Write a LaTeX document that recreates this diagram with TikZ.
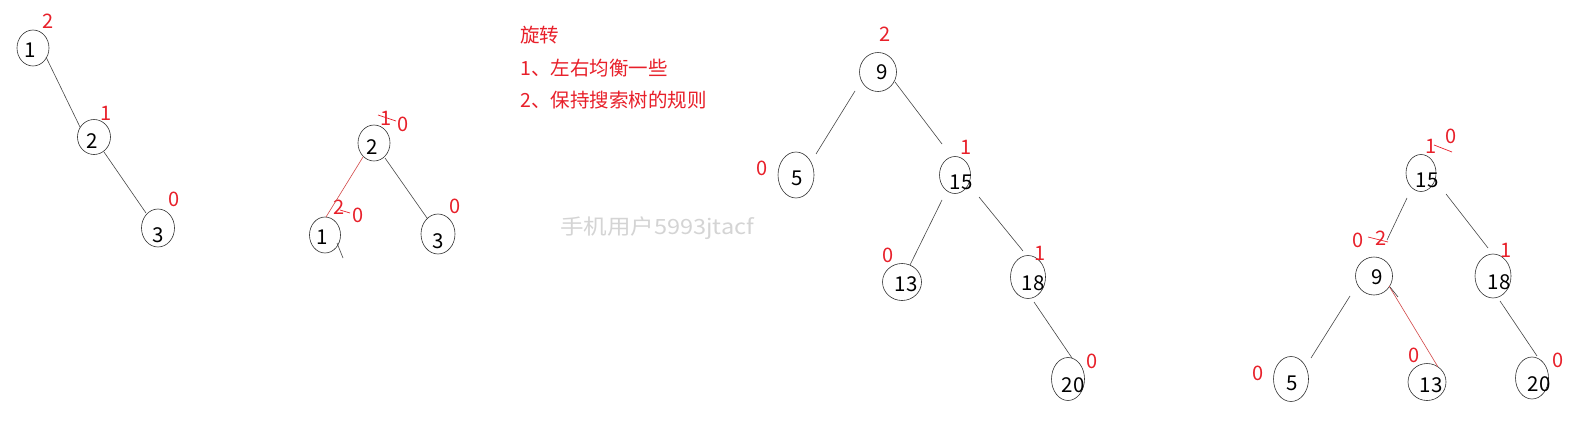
\documentclass[tikz,border=0pt]{standalone}
\usepackage{fontspec}
\usepackage{graphicx}
\setmainfont{Noto Sans CJK SC}
\usetikzlibrary{shapes.geometric,calc}
\definecolor{lblred}{RGB}{232,32,42}
\definecolor{edgegray}{RGB}{70,70,70}
\definecolor{ellgray}{RGB}{50,50,50}
\definecolor{wmgray}{RGB}{212,212,212}
\definecolor{redline}{RGB}{210,70,70}
\tikzset{
  ell/.style={shape=ellipse,draw=ellgray,line width=0.6pt,inner sep=0pt},
  num/.style={inner sep=0pt,font=\fontsize{20.5}{22}\selectfont,text=black},
  bal/.style={inner sep=0pt,font=\fontsize{20}{22}\selectfont,text=lblred},
  edge/.style={draw=edgegray,line width=0.6pt},
  redge/.style={draw=redline,line width=0.6pt},
  strike/.style={draw=lblred,line width=0.7pt},
  cjk/.style={anchor=west,inner sep=0pt,font=\fontsize{19.5}{22}\selectfont,text=lblred}
}
% name, x, y, w, h, text, tx, ty
\newcommand{\bnode}[8]{%
  \node[ell,minimum width=#4pt,minimum height=#5pt] (#1) at (#2,#3) {};
  \node[num] (#1t) at (#7,#8) {#6};
}
\begin{document}
\begin{tikzpicture}[x=1pt,y=-1pt]
\useasboundingbox (0,0) rectangle (1578,423);
\fill[white] (0,0) rectangle (1578,423);

% ---------- Tree 1 ----------
\bnode{t1a}{33}{48}{32}{36}{1}{30}{50}
\bnode{t1b}{94}{137}{33}{35}{2}{92}{141}
\bnode{t1c}{158}{228}{33}{38}{3}{158}{235}
\node[bal] (t1la) at (48,21) {2};
\node[bal] (t1lb) at (106,113) {1};
\node[bal] (t1lc) at (174,199) {0};
\draw[edge] ($(t1a)+(13,9)$) -- ($(t1b)+(-14,-10)$);
\draw[edge] ($(t1b)+(10,15)$) -- ($(t1c)+(-12,-15)$);

% ---------- Tree 2 ----------
\bnode{t2b}{374}{143}{32}{36}{2}{372}{147}
\bnode{t2a}{325}{235}{31}{36}{1}{322}{237}
\bnode{t2c}{438}{234}{34}{40}{3}{438}{241}
\node[bal] (t2lb1) at (386,118) {1};
\node[bal] (t2lb2) at (403,124) {0};
\draw[strike] (378,115) -- (396,121);
\node[bal] (t2la1) at (339,207) {2};
\node[bal] (t2la2) at (358,215) {0};
\draw[strike] (340,210) -- (350,213);
\node[bal] (t2lc) at (455,206) {0};
\draw[redge] ($(t2b)+(-11,14)$) -- ($(t2a)+(1,-18)$);
\draw[edge] ($(t2b)+(11,15)$) -- ($(t2c)+(-11,-16)$);
\draw[edge] ($(t2a)+(12,8)$) -- ($(t2a)+(18,23)$);

% ---------- Text ----------
\node[cjk] (txt1) at (520,35) {旋转};
\node[cjk] (txt2) at (520,68) {1、左右均衡一些};
\node[cjk] (txt3) at (520,100) {2、保持搜索树的规则};

% ---------- Watermark ----------
\node[inner sep=0pt,text=wmgray,font=\fontsize{21}{24}\selectfont] (wm) at (657,228) {\scalebox{1.12}[1]{手机用户5993jtacf}};

% ---------- Tree 3 ----------
\bnode{t3n9}{878}{72}{37}{39}{9}{882}{72}
\bnode{t3n5}{796}{175}{36}{46}{5}{797}{178}
\bnode{t3n15}{955}{175}{31}{37}{15}{961}{182}
\bnode{t3n13}{902}{282}{39}{37}{13}{906}{284}
\bnode{t3n18}{1028}{277}{35}{43}{18}{1033}{283}
\bnode{t3n20}{1068}{379}{33}{43}{20}{1073}{385}
\node[bal] (t3l9) at (885,34) {2};
\node[bal] (t3l5) at (762,168) {0};
\node[bal] (t3l15) at (966,147) {1};
\node[bal] (t3l13) at (888,255) {0};
\node[bal] (t3l18) at (1040,253) {1};
\node[bal] (t3l20) at (1092,361) {0};
\draw[edge] ($(t3n9)+(-23,19)$) -- ($(t3n5)+(20,-21)$);
\draw[edge] ($(t3n9)+(17,10)$) -- ($(t3n15)+(-13,-31)$);
\draw[edge] ($(t3n15)+(-13,25)$) -- ($(t3n13)+(8,-17)$);
\draw[edge] ($(t3n15)+(24,22)$) -- ($(t3n18)+(-5,-26)$);
\draw[edge] ($(t3n18)+(6,25)$) -- ($(t3n20)+(4,-21)$);

% ---------- Tree 4 ----------
\bnode{t4n15}{1421}{173}{30}{37}{15}{1427}{180}
\bnode{t4n9}{1374}{276}{37}{38}{9}{1377}{277}
\bnode{t4n18}{1493}{276}{36}{44}{18}{1499}{282}
\bnode{t4n5}{1291}{379}{35}{45}{5}{1292}{383}
\bnode{t4n13}{1427}{382}{38}{37}{13}{1431}{385}
\bnode{t4n20}{1532}{378}{33}{42}{20}{1539}{384}
\node[bal] (t4l15a) at (1431,146) {1};
\node[bal] (t4l15b) at (1451,136) {0};
\draw[strike] (1434,145) -- (1452,152);
\node[bal] (t4l9a) at (1358,240) {0};
\node[bal] (t4l9b) at (1381,238) {2};
\draw[strike] (1368,237) -- (1388,242);
\node[bal] (t4l18) at (1506,250) {1};
\node[bal] (t4l5) at (1258,373) {0};
\node[bal] (t4l13) at (1414,355) {0};
\node[bal] (t4l20) at (1558,360) {0};
\draw[edge] ($(t4n15)+(-14,25)$) -- ($(t4n9)+(13,-36)$);
\draw[edge] ($(t4n15)+(25,21)$) -- ($(t4n18)+(-5,-28)$);
\draw[edge] ($(t4n9)+(-24,20)$) -- ($(t4n5)+(20,-21)$);
\draw[redge] ($(t4n9)+(15,10)$) -- ($(t4n13)+(11,-15)$);
\draw[edge] ($(t4n18)+(7,25)$) -- ($(t4n20)+(5,-22)$);
\draw[edge] ($(t4n9)+(16,11)$) -- ($(t4n9)+(24,21)$);
\end{tikzpicture}
\end{document}
